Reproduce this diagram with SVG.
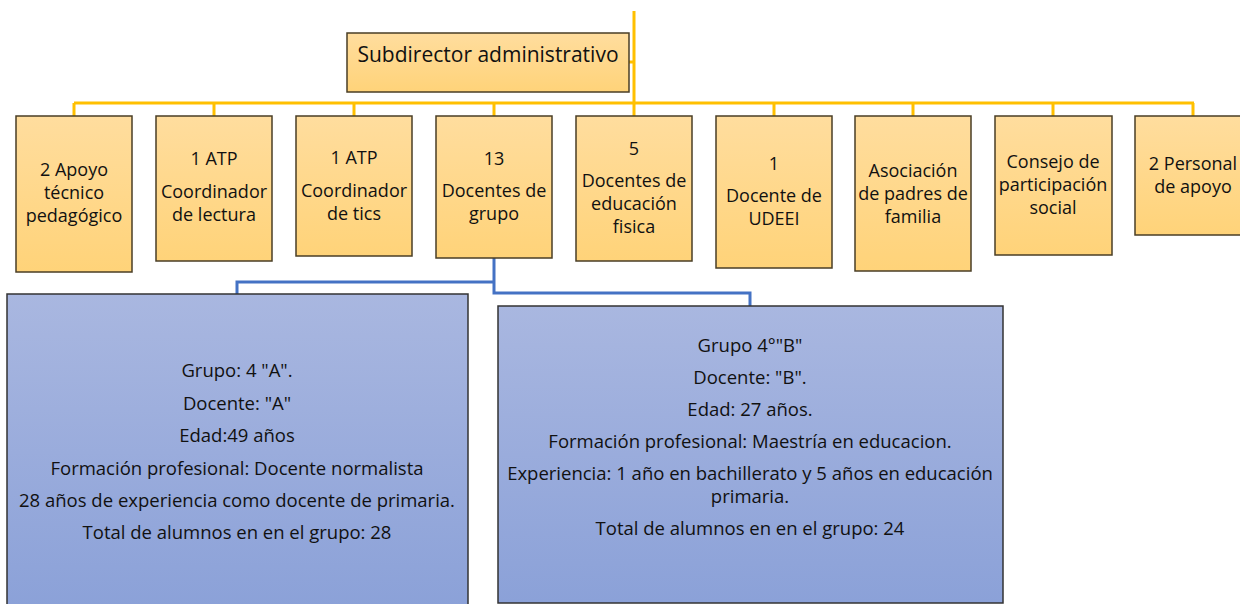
<svg xmlns="http://www.w3.org/2000/svg" width="1240" height="604" viewBox="0 0 1240 604">
<defs>
<linearGradient id="gO" x1="0" y1="0" x2="0" y2="1">
<stop offset="0" stop-color="#FFDD9E"/>
<stop offset="1" stop-color="#FFD379"/>
</linearGradient>
<linearGradient id="gB" x1="0" y1="0" x2="0" y2="1">
<stop offset="0" stop-color="#A9B7E0"/>
<stop offset="1" stop-color="#8BA1D8"/>
</linearGradient>
<style>
.o{fill:url(#gO);stroke:#4A3E26;stroke-width:1.5}
.b{fill:url(#gB);stroke:#333;stroke-width:1.5}
.y{fill:none;stroke:#FFC000;stroke-width:3}
.bl{fill:none;stroke:#4472C4;stroke-width:3}
text{font-family:"Open Sans","Noto Sans",sans-serif;fill:#111;text-anchor:middle}
.t{font-size:18px}
.h{font-size:21px}
.s{font-size:18.5px}
</style>
</defs>
<g id="connectors">
<path class="y" d="M634 11V103M629 62H634M74 103H1194"/>
<path class="y" d="M74 103V116M214 103V116M354 103V116M494 103V116M634 103V116M774 103V116M913 103V116M1053 103V116M1193 103V116"/>
<path class="bl" d="M494 258V293H750V306M494 282H237V294"/>
</g>
<g id="subdirector">
<rect class="o" x="347" y="33" width="282" height="59"/>
<text class="h" x="488" y="62">Subdirector administrativo</text>
</g>
<g id="n1">
<rect class="o" x="16" y="116" width="116" height="156"/>
<text class="t" x="74" y="176">2 Apoyo</text>
<text class="t" x="74" y="199">técnico</text>
<text class="t" x="74" y="222">pedagógico</text>
</g>
<g id="n2">
<rect class="o" x="156" y="116" width="116" height="145"/>
<text class="t" x="214" y="165">1 ATP</text>
<text class="t" x="214" y="198">Coordinador</text>
<text class="t" x="214" y="221">de lectura</text>
</g>
<g id="n3">
<rect class="o" x="296" y="116" width="116" height="140"/>
<text class="t" x="354" y="164">1 ATP</text>
<text class="t" x="354" y="197">Coordinador</text>
<text class="t" x="354" y="220">de tics</text>
</g>
<g id="n4">
<rect class="o" x="436" y="116" width="116" height="142"/>
<text class="t" x="494" y="165">13</text>
<text class="t" x="494" y="197">Docentes de</text>
<text class="t" x="494" y="220">grupo</text>
</g>
<g id="n5">
<rect class="o" x="576" y="116" width="116" height="145"/>
<text class="t" x="634" y="155">5</text>
<text class="t" x="634" y="187">Docentes de</text>
<text class="t" x="634" y="210">educación</text>
<text class="t" x="634" y="233">fisica</text>
</g>
<g id="n6">
<rect class="o" x="716" y="116" width="116" height="152"/>
<text class="t" x="774" y="170">1</text>
<text class="t" x="774" y="202">Docente de</text>
<text class="t" x="774" y="225">UDEEI</text>
</g>
<g id="n7">
<rect class="o" x="855" y="116" width="116" height="155"/>
<text class="t" x="913" y="177">Asociación</text>
<text class="t" x="913" y="200">de padres de</text>
<text class="t" x="913" y="223">familia</text>
</g>
<g id="n8">
<rect class="o" x="995" y="116" width="117" height="139"/>
<text class="t" x="1053" y="168">Consejo de</text>
<text class="t" x="1053" y="191">participación</text>
<text class="t" x="1053" y="214">social</text>
</g>
<g id="n9">
<rect class="o" x="1135" y="116" width="116" height="119"/>
<text class="t" x="1193" y="170">2 Personal</text>
<text class="t" x="1193" y="193">de apoyo</text>
</g>
<g id="grupoA">
<rect class="b" x="7" y="294" width="461" height="315"/>
<text class="s" x="237" y="377">Grupo: 4 "A".</text>
<text class="s" x="237" y="410">Docente: "A"</text>
<text class="s" x="237" y="442">Edad:49 años</text>
<text class="s" x="237" y="475">Formación profesional: Docente normalista</text>
<text class="s" x="237" y="507">28 años de experiencia como docente de primaria.</text>
<text class="s" x="237" y="539">Total de alumnos en en el grupo: 28</text>
</g>
<g id="grupoB">
<rect class="b" x="498" y="306" width="505" height="297"/>
<text class="s" x="750" y="352">Grupo 4°"B"</text>
<text class="s" x="750" y="384">Docente: "B".</text>
<text class="s" x="750" y="416">Edad: 27 años.</text>
<text class="s" x="750" y="448">Formación profesional: Maestría en educacion.</text>
<text class="s" x="750" y="480">Experiencia: 1 año en bachillerato y 5 años en educación</text>
<text class="s" x="750" y="503">primaria.</text>
<text class="s" x="750" y="535">Total de alumnos en en el grupo: 24</text>
</g>
</svg>
